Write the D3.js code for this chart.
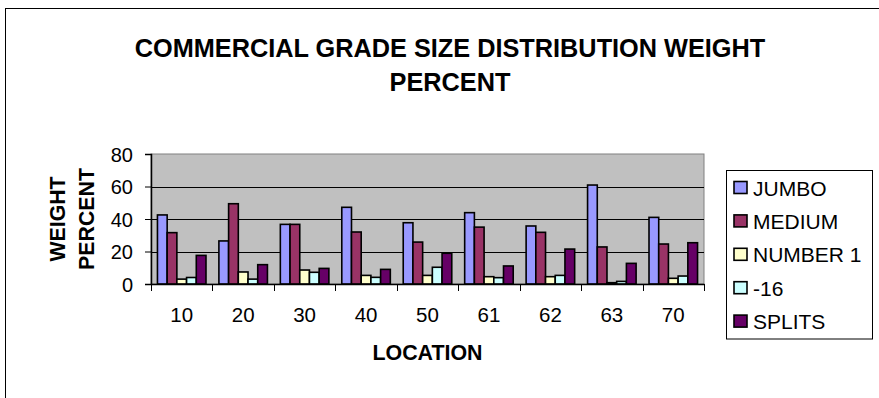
<!DOCTYPE html>
<html><head><meta charset="utf-8">
<script src="https://cdn.jsdelivr.net/npm/d3@7"></script>
<style>
html,body{margin:0;padding:0;background:#fff;}
svg{display:block;font-family:"Liberation Sans",Arial,sans-serif;}
</style></head>
<body>
<svg id="c" width="879" height="398"></svg>
<script>
const categories = ["10","20","30","40","50","61","62","63","70"];
const seriesNames = ["JUMBO","MEDIUM","NUMBER 1","-16","SPLITS"];
const seriesColors = ["#9999FF","#993366","#FFFFCC","#CCFFFF","#660066"];
const jumbo   = [42.5, 26.5, 36.7, 47.2, 37.7, 43.9, 35.7, 60.9, 41.0];
const medium  = [31.6, 49.4, 36.7, 32.0, 25.8, 35.0, 31.8, 22.8, 24.6];
const number1 = [3.0, 7.4, 8.6, 5.3, 5.3, 4.5, 4.5, 0.8, 3.5];
const minus16 = [4.0, 3.0, 7.2, 4.1, 10.3, 3.9, 5.3, 1.6, 4.9];
const splits  = [17.6, 11.9, 9.6, 9.0, 18.9, 11.1, 21.5, 12.7, 25.4];
const yTicks = [0, 20, 40, 60, 80];
const titleLines = ["COMMERCIAL GRADE SIZE DISTRIBUTION WEIGHT", "PERCENT"];
const yTitleLines = ["WEIGHT", "PERCENT"];
const xTitle = "LOCATION";

const seriesValues = [jumbo, medium, number1, minus16, splits];
const svg = d3.select("#c");

// outer chart border
svg.append("rect").attr("x",5.5).attr("y",8.5).attr("width",1000).attr("height",1000)
  .attr("fill","#fff").attr("stroke","#000").attr("stroke-width",1);

const L=151, R=704, T=154, B=284;
const x0 = d3.scaleBand().domain(categories).range([L,R]).padding(0);
const bw = x0.bandwidth();
const gap = bw*0.21;
const x1 = d3.scaleBand().domain(seriesNames).range([gap/2, bw-gap/2]).padding(0);
const y = d3.scaleLinear().domain([0,80]).range([B,T]);

// plot area
svg.append("rect").attr("x",L).attr("y",T).attr("width",R-L).attr("height",B-T)
  .attr("fill","#C0C0C0").attr("stroke","#808080").attr("stroke-width",1);

// gridlines
svg.append("g").selectAll("line").data(yTicks.filter(d=>d>0&&d<80)).join("line")
  .attr("x1",L).attr("x2",R).attr("y1",d=>Math.round(y(d))+0.5).attr("y2",d=>Math.round(y(d))+0.5)
  .attr("stroke","#000").attr("stroke-width",1);

// bars
const g = svg.append("g");
categories.forEach((c,i)=>{
  seriesNames.forEach((s,j)=>{
    const v = seriesValues[j][i];
    g.append("rect")
      .attr("x", x0(c)+x1(s))
      .attr("y", y(v))
      .attr("width", x1.bandwidth())
      .attr("height", Math.max(0, y(0)-y(v)))
      .attr("fill", seriesColors[j])
      .attr("stroke","#000").attr("stroke-width",1.6);
  });
});

// y axis
const yAxis = d3.axisLeft(y).tickValues(yTicks).tickSize(6).tickPadding(12);
const ya = svg.append("g").attr("transform",`translate(${L},0)`).call(yAxis);
ya.select(".domain").attr("stroke","#000").attr("stroke-width",1.5);
ya.selectAll(".tick line").attr("stroke","#000");
ya.selectAll(".tick text").attr("font-size",20).attr("fill","#000")
  .attr("font-family","'Liberation Sans',Arial,sans-serif").attr("dy","0.35em");

// x axis
const xa = svg.append("g").attr("transform",`translate(0,${B})`)
  .call(d3.axisBottom(x0).tickSize(0).tickPadding(23));
xa.select(".domain").attr("stroke","#000").attr("stroke-width",1.5);
xa.selectAll(".tick text").attr("font-size",20.5).attr("fill","#000")
  .attr("font-family","'Liberation Sans',Arial,sans-serif");
// boundary ticks
const bounds = categories.map(c=>x0(c)).concat([x0(categories[categories.length-1])+bw]);
svg.append("g").selectAll("line").data(bounds).join("line")
  .attr("x1",d=>Math.round(d)+0.5).attr("x2",d=>Math.round(d)+0.5)
  .attr("y1",B).attr("y2",B+7).attr("stroke","#000").attr("stroke-width",1);

// title
svg.append("text").attr("x",450).attr("y",57).attr("text-anchor","middle")
  .attr("font-size",25.3).attr("font-weight","bold").text(titleLines[0]);
svg.append("text").attr("x",450).attr("y",91).attr("text-anchor","middle")
  .attr("font-size",25.3).attr("font-weight","bold").text(titleLines[1]);

// y title
const yc = (T+B)/2;
[65, 94].forEach((bx,i)=>{
  svg.append("text").attr("transform",`translate(${bx},${yc}) rotate(-90)`)
    .attr("text-anchor","middle").attr("font-size",21.3).attr("font-weight","bold")
    .text(yTitleLines[i]);
});

// x title
svg.append("text").attr("x",(L+R)/2).attr("y",360).attr("text-anchor","middle")
  .attr("font-size",21.4).attr("font-weight","bold").text(xTitle);

// legend
svg.append("rect").attr("x",726.5).attr("y",170.5).attr("width",146).attr("height",168.5)
  .attr("fill","#fff").attr("stroke","#000").attr("stroke-width",1);
const lg = svg.append("g");
seriesNames.forEach((s,j)=>{
  const cy = 188 + j*33.4;
  lg.append("rect").attr("x",734).attr("y",cy-6.5).attr("width",13).attr("height",12)
    .attr("fill",seriesColors[j]).attr("stroke","#000").attr("stroke-width",1.6);
  lg.append("text").attr("x",753).attr("y",cy).attr("dy","0.36em")
    .attr("font-size",21).text(s);
});
</script>
</body></html>
